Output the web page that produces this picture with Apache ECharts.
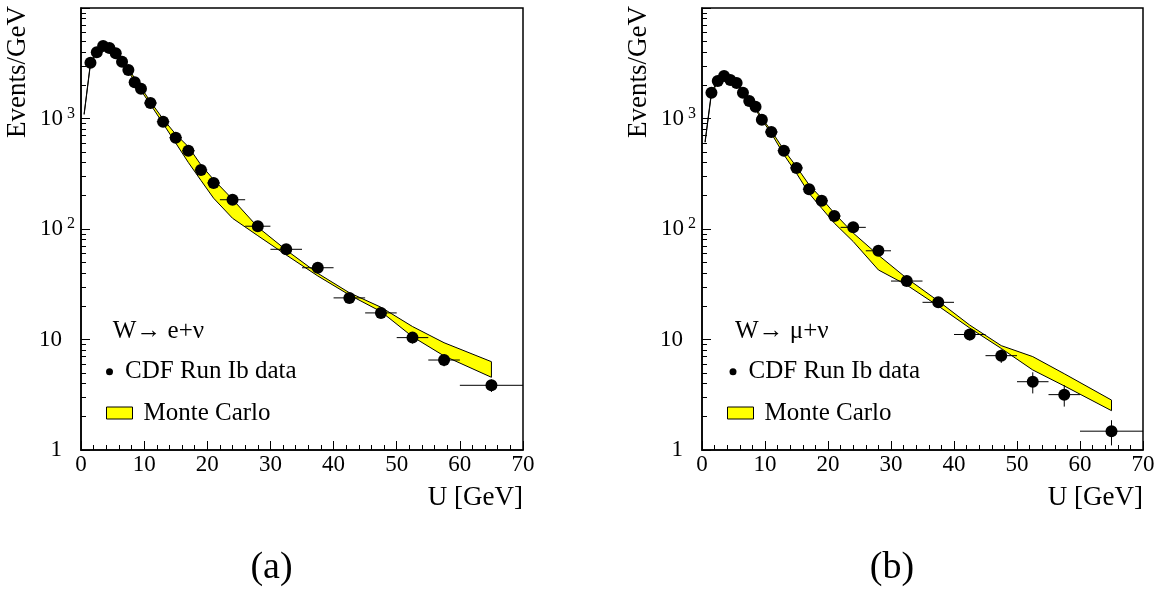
<!DOCTYPE html>
<html><head><meta charset="utf-8">
<script src="https://cdn.jsdelivr.net/npm/echarts@6/dist/echarts.min.js"></script>
<style>html,body{margin:0;padding:0;background:#fff}#c{width:1166px;height:590px}</style>
</head><body><div id="c"></div><script>
// ---- data ----
const binCenters = [1.5,2.5,3.5,4.5,5.5,6.5,7.5,8.5,9.5,11,13,15,17,19,21,24,28,32.5,37.5,42.5,47.5,52.5,57.5,65];
const binLow     = [1,2,3,4,5,6,7,8,9,10,12,14,16,18,20,22,26,30,35,40,45,50,55,60];
const binHigh    = [2,3,4,5,6,7,8,9,10,12,14,16,18,20,22,26,30,35,40,45,50,55,60,70];

const elecData = [3200,3970,4530,4345,3890,3265,2747,2125,1862,1380,935,670,511,342,261,184,106,65.5,44.6,23.8,17.4,10.4,6.52,3.85];
const elecErr  = [60,70,75,70,65,60,55,50,45,30,25,20,18,14,12,8,6,4,3,2,1.8,1.2,0.8,0.5];
const muonData = [1711,2184,2425,2230,2094,1711,1439,1279,975,755,511,357,229,180,131,103.5,63.5,33.8,21.7,11.1,7.14,4.15,3.17,1.48];
const muonErr  = [45,50,52,50,48,45,40,38,33,22,18,15,12,10,9,7,4.5,2.6,2,1.3,1.0,0.9,0.7,0.38];

const mcX        = [0.5,1.5,2.5,3.5,4.5,5.5,6.5,7.5,8.5,9.5,11,13,15,17,19,21,24,28,32.5,37.5,42.5,47.5,52.5,57.5,65];
const elecMcUp   = [1110,3200,4050,4500,4360,3920,3380,2830,2320,1910,1420,990,720,556,380,280,186,104,64.5,39.7,26.5,19.6,13.1,9.35,6.3];
const elecMcLow  = [1090,3100,3950,4400,4240,3780,3220,2670,2180,1790,1340,900,600,400,275,190,125,87,58.2,37.6,25.3,17.9,10.6,7.1,4.55];
const muonMcUp   = [630,1730,2220,2460,2300,2120,1770,1490,1270,1010,775,520,366,251,189,139,92,58,35.8,22.3,13.5,8.8,7.0,4.9,2.83];
const muonMcLow  = [610,1670,2140,2380,2220,2040,1710,1430,1210,970,735,470,319,210,154,113,77,42.6,31.1,20.1,12.7,8.3,5.3,3.8,2.27];

const xTickStep = 10;
const yMinorTicks = [2,3,4,5,6,7,8,9,20,30,40,50,60,70,80,90,200,300,400,500,600,700,800,900,2000,3000,4000,5000,6000,7000,8000,9000];
const yLabelBase = ['1','10','10','10',''];
const yLabelExp  = ['','','2','3',''];

const FONT = '"Liberation Serif", "Times New Roman", serif';

// ---- builders ----
function xAxisCfg(gi) {
  return {
    type:'value', gridIndex:gi, min:0, max:70, interval:xTickStep,
    name:'U [GeV]', nameLocation:'end', nameGap:0,
    nameTextStyle:{fontFamily:FONT, fontSize:27, color:'#000', align:'right', verticalAlign:'top', padding:[34,0,0,0]},
    axisLine:{lineStyle:{color:'#000', width:1.5}},
    axisTick:{inside:true, length:9, lineStyle:{color:'#000', width:1}},
    minorTick:{show:true, splitNumber:5, length:5, lineStyle:{color:'#000', width:1}},
    splitLine:{show:false},
    axisLabel:{fontFamily:FONT, fontSize:23, color:'#000', margin:3}
  };
}
function yAxisMajor(gi) {
  return {
    type:'log', logBase:10, gridIndex:gi, min:1, max:10000, position:'left',
    axisLine:{lineStyle:{color:'#000', width:1.5}},
    axisTick:{inside:true, length:9, lineStyle:{color:'#000', width:1}},
    splitLine:{show:false},
    axisLabel:{
      margin:6,
      formatter:function(v){
        const k = Math.round(Math.log10(v));
        if (!yLabelBase[k]) return '';
        if (yLabelExp[k]) return '{n|' + yLabelBase[k] + '}{s|' + yLabelExp[k] + '}';
        return '{n|' + yLabelBase[k] + '}{sp|}';
      },
      rich:{
        n:{fontFamily:FONT, fontSize:23, color:'#000', lineHeight:26},
        s:{fontFamily:FONT, fontSize:16, color:'#000', lineHeight:16, verticalAlign:'top', padding:[0,0,0,4]},
        sp:{width:13}
      }
    }
  };
}
function yAxisMinor(gi) {
  return {
    type:'log', logBase:10, gridIndex:gi, min:1, max:10000, position:'left',
    axisLine:{show:false},
    axisTick:{inside:true, length:5, customValues:yMinorTicks, lineStyle:{color:'#000', width:1}},
    axisLabel:{show:false},
    splitLine:{show:false}
  };
}
function bandSeries(xs, up, lo, xi, yi) {
  return {
    type:'custom', name:'Monte Carlo', xAxisIndex:xi, yAxisIndex:yi, z:2, clip:true,
    itemStyle:{color:'#ffff00', borderColor:'#000', borderWidth:1},
    data: xs.map((x,i)=>[x, up[i], lo[i]]),
    encode:{x:0, y:[1,2]},
    renderItem:function(params, api){
      if (params.dataIndex !== 0) return null;
      const pts = [];
      for (let i=0;i<xs.length;i++) pts.push(api.coord([xs[i], up[i]]));
      for (let i=xs.length-1;i>=0;i--) pts.push(api.coord([xs[i], lo[i]]));
      return {type:'polygon', shape:{points:pts}, style:{fill:'#ffff00', stroke:'#000', lineWidth:1}};
    }
  };
}
function errSeries(vals, errs, xi, yi) {
  return {
    type:'custom', xAxisIndex:xi, yAxisIndex:yi, z:3,
    data: binCenters.map((x,i)=>[x, vals[i], binLow[i], binHigh[i], errs[i]]),
    encode:{x:0, y:1},
    renderItem:function(params, api){
      const x=api.value(0), y=api.value(1), xl=api.value(2), xh=api.value(3), e=api.value(4);
      const pL=api.coord([xl,y]), pH=api.coord([xh,y]);
      const pT=api.coord([x,y+e]), pB=api.coord([x,y-e]);
      return {type:'group', children:[
        {type:'line', shape:{x1:pL[0],y1:pL[1],x2:pH[0],y2:pH[1]}, style:{stroke:'#000', lineWidth:1}},
        {type:'line', shape:{x1:pT[0],y1:pT[1],x2:pB[0],y2:pB[1]}, style:{stroke:'#000', lineWidth:1}}
      ]};
    }
  };
}
function dataSeries(vals, xi, yi) {
  return {
    type:'scatter', name:'CDF Run Ib data', xAxisIndex:xi, yAxisIndex:yi, z:4,
    symbol:'circle', symbolSize:12, itemStyle:{color:'#000', opacity:1},
    emphasis:{disabled:true},
    data: binCenters.map((x,i)=>[x, vals[i]])
  };
}
function legendPair(left) {
  return [
    {show:true, left:left.dot, top:358.7, orient:'vertical', padding:0, selectedMode:false,
     itemWidth:21, itemHeight:7,
     textStyle:{fontFamily:FONT, fontSize:25, color:'#000', lineHeight:26},
     data:[{name:'CDF Run Ib data', icon:'circle', itemStyle:{color:'#000', opacity:1}}]},
    {show:true, left:left.box, top:396, orient:'vertical', padding:0, selectedMode:false,
     itemWidth:26, itemHeight:12,
     textStyle:{fontFamily:FONT, fontSize:25, color:'#000', lineHeight:26, padding:[0,0,8,6]},
     data:[{name:'Monte Carlo', icon:'rect', itemStyle:{color:'#ffff00', borderColor:'#000', borderWidth:1}}]}
  ];
}
function txt(text, x, y, size, align, rot) {
  return {type:'text', x:x, y:y, rotation:rot||0, silent:true,
    style:{text:text, fontFamily:FONT, fontSize:size, fill:'#000', align:align, verticalAlign:'middle'}};
}

const chart = echarts.init(document.getElementById('c'), null, {renderer:'canvas'});
chart.setOption({
  animation:false,
  backgroundColor:'#fff',
  grid:[
    {left:81, top:8, width:442, height:442, show:true, borderColor:'#000', borderWidth:1.5, backgroundColor:'transparent'},
    {left:702, top:8, width:441, height:442, show:true, borderColor:'#000', borderWidth:1.5, backgroundColor:'transparent'}
  ],
  xAxis:[xAxisCfg(0), xAxisCfg(1)],
  yAxis:[yAxisMajor(0), yAxisMinor(0), yAxisMajor(1), yAxisMinor(1)],
  legend:[].concat(legendPair({dot:106, box:106}), legendPair({dot:729.5, box:727})),
  series:[
    bandSeries(mcX, elecMcUp, elecMcLow, 0, 0),
    errSeries(elecData, elecErr, 0, 0),
    dataSeries(elecData, 0, 0),
    bandSeries(mcX, muonMcUp, muonMcLow, 1, 2),
    errSeries(muonData, muonErr, 1, 2),
    dataSeries(muonData, 1, 2)
  ],
  graphic:[
    txt('Events/GeV', 18, 72, 27, 'center', Math.PI/2),
    txt('Events/GeV', 639, 72, 27, 'center', Math.PI/2),
    txt('W\u2192 e+\u03bd', 112.7, 331.7, 25, 'left'),
    txt('W\u2192 \u03bc+\u03bd', 735, 331.7, 25, 'left'),
    txt('(a)', 271.5, 568.5, 38, 'center'),
    txt('(b)', 892, 568.5, 38, 'center')
  ]
});
</script></body></html>
